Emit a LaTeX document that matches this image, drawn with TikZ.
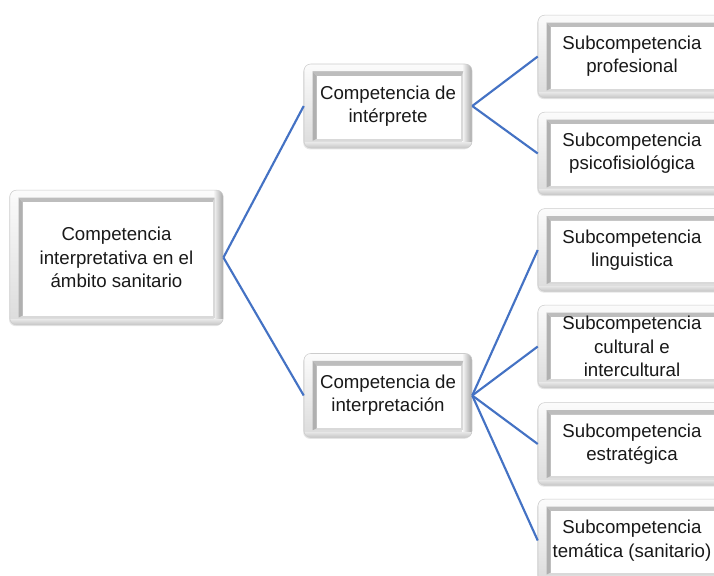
\documentclass[tikz,border=0pt]{standalone}
\usepackage{fontspec}
\setmainfont{Liberation Sans}
\usetikzlibrary{shadows,calc}
\definecolor{linkblue}{RGB}{68,114,196}
\definecolor{txt}{RGB}{25,25,25}
\tikzset{
  bevelbox/.style={rounded corners=5pt, draw=gray!40, line width=0.4pt,
    top color=gray!3, bottom color=gray!28,
    drop shadow={opacity=0.2, shadow xshift=-0.6pt, shadow yshift=-1pt},
    inner sep=0pt, align=center, text=txt,
    font=\fontsize{14}{17.5}\selectfont,
    path picture={
      \coordinate (pSW) at (path picture bounding box.south west);
      \coordinate (pNE) at (path picture bounding box.north east);
      \coordinate (pA) at ($(pSW)+(6.5pt,5.5pt)$);
      \coordinate (pB) at ($(pNE)+(-6.5pt,-5.5pt)$);
      \coordinate (pC) at ($(pSW)+(9.5pt,7pt)$);
      \coordinate (pD) at ($(pNE)+(-8pt,-9pt)$);
      \coordinate (pR) at ($(pNE)+(-7pt,0pt)$);
      \coordinate (pT) at ($(pSW)+(0pt,4pt)$);
      \shade[left color=gray!8, right color=gray!70, sharp corners]
        (pR |- pSW) rectangle (pNE);
      \shade[top color=gray!20, bottom color=gray!45, sharp corners]
        (pSW) rectangle (pNE |- pT);
      \fill[gray!30, sharp corners] (pA) rectangle (pB);
      \fill[gray!62, sharp corners]
        (pA) -- (pC) -- (pC |- pD) -- (pA |- pB) -- cycle;
      \fill[gray!52, sharp corners]
        (pA |- pB) -- (pB) -- (pD) -- (pC |- pD) -- cycle;
      \fill[white, sharp corners] (pC) rectangle (pD);
    }},
  rootbox/.style={bevelbox, minimum width=160pt, minimum height=101pt},
  midbox/.style={bevelbox, minimum width=126pt, minimum height=63pt},
  subbox/.style={bevelbox, minimum width=141pt, minimum height=62pt},
  link/.style={draw=linkblue, line width=1.6pt}
}
\begin{document}
\begin{tikzpicture}[x=0.75pt, y=-0.75pt]
\clip (0,0) rectangle (714,575);
\fill[white] (0,0) rectangle (714,575);
\node[rootbox] (root) at (116.5,257.5) {Competencia\\interpretativa en el\\ámbito sanitario};
\node[midbox] (m1) at (388,106) {Competencia de\\intérprete};
\node[midbox] (m2) at (388,395.5) {Competencia de\\interpretación};
\node[subbox] (s1) at (632,56.5) {Subcompetencia\\profesional};
\node[subbox] (s2) at (632,153.5) {Subcompetencia\\psicofisiológica};
\node[subbox] (s3) at (632,250) {Subcompetencia\\linguistica};
\node[subbox] (s4) at (632,346.5) {Subcompetencia\\cultural e\\intercultural};
\node[subbox] (s5) at (632,444) {Subcompetencia\\estratégica};
\node[subbox] (s6) at (632,540.5) {Subcompetencia\\temática (sanitario)};
\draw[link] (root.east) -- (m1.west);
\draw[link] (root.east) -- (m2.west);
\draw[link] (m1.east) -- (s1.west);
\draw[link] (m1.east) -- (s2.west);
\draw[link] (m2.east) -- (s3.west);
\draw[link] (m2.east) -- (s4.west);
\draw[link] (m2.east) -- (s5.west);
\draw[link] (m2.east) -- (s6.west);
\end{tikzpicture}
\end{document}
